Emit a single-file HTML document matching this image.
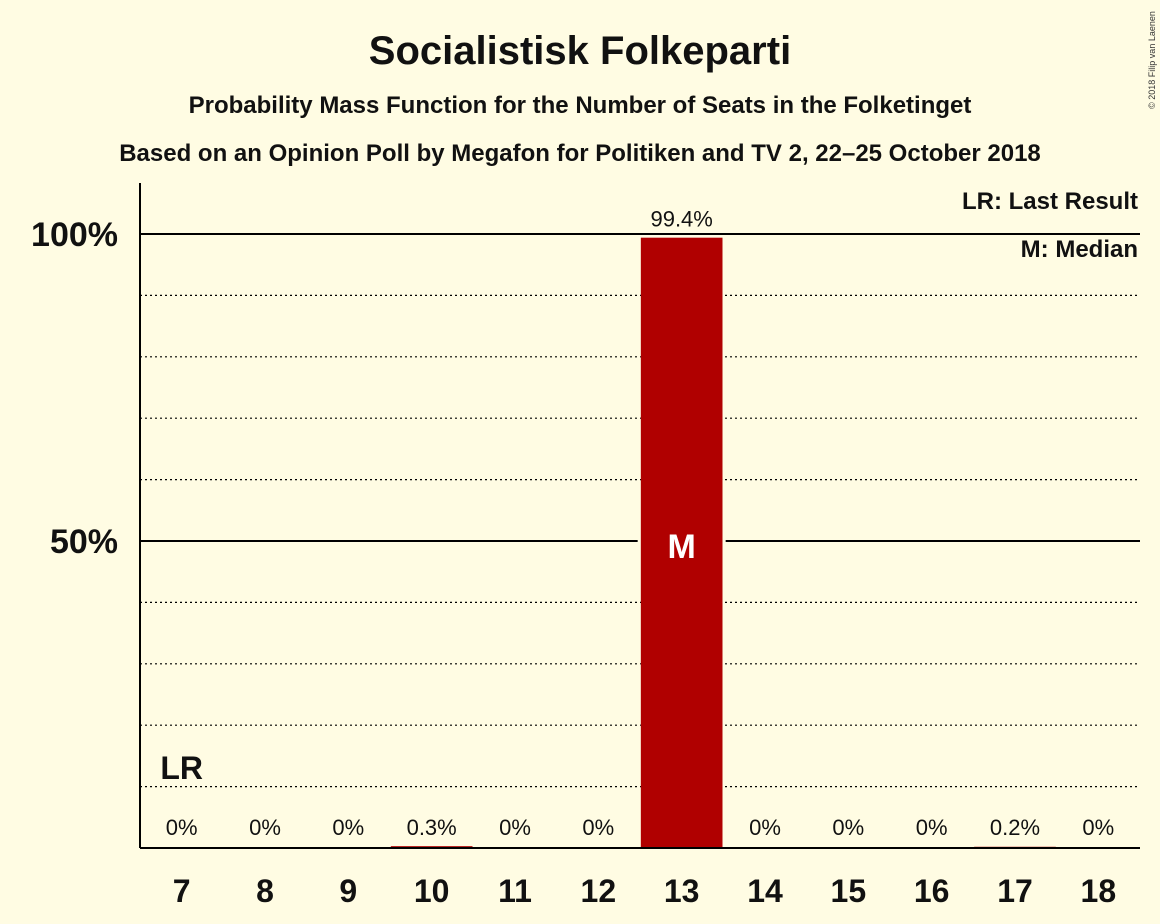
<!DOCTYPE html>
<html><head><meta charset="utf-8"><style>
body{margin:0;background:#FFFCE3;}
svg{display:block;font-family:"Liberation Sans",sans-serif;}
</style></head><body>
<svg id="chart" width="1160" height="924" viewBox="0 0 1160 924">
<rect width="1160" height="924" fill="#FFFCE3"/>
<text x="580" y="64" text-anchor="middle" font-size="40" font-weight="bold" fill="#111">Socialistisk Folkeparti</text>
<text x="580" y="113" text-anchor="middle" font-size="24" font-weight="bold" fill="#111">Probability Mass Function for the Number of Seats in the Folketinget</text>
<text x="580" y="161" text-anchor="middle" font-size="24" font-weight="bold" fill="#111">Based on an Opinion Poll by Megafon for Politiken and TV 2, 22–25 October 2018</text>
<text transform="translate(1155,60) rotate(-90)" text-anchor="middle" font-size="9" fill="#333">© 2018 Filip van Laenen</text>
<g id="grid"></g>
<g id="bars"></g>
<g id="labels"></g>
<line x1="140" y1="183" x2="140" y2="848" stroke="#000" stroke-width="2"/>
<line x1="140" y1="848" x2="1140" y2="848" stroke="#000" stroke-width="2"/>
<text x="1138" y="209" text-anchor="end" font-size="24" font-weight="bold" fill="#111">LR: Last Result</text>
<text x="1138" y="257" text-anchor="end" font-size="24" font-weight="bold" fill="#111">M: Median</text>
</svg>
<script>
const seats=[7,8,9,10,11,12,13,14,15,16,17,18];
const probs=[0,0,0,0.3,0,0,99.4,0,0,0,0.2,0];
const probLabels=["0%","0%","0%","0.3%","0%","0%","99.4%","0%","0%","0%","0.2%","0%"];
const yTicks=[50,100];
const yTickLabels=["50%","100%"];
const gridVals=[10,20,30,40,60,70,80,90];
const medianSeat=13;
const lastResultSeat=7;
const NS="http://www.w3.org/2000/svg";
const x0=140,x1=1140,yb=848,yt=234;
const step=(x1-x0)/seats.length;
function xs(i){return x0+step*(i+0.5);}
function ys(v){return yb-(yb-yt)*v/100;}
function mk(t,a,p,txt){const e=document.createElementNS(NS,t);for(const k in a)e.setAttribute(k,a[k]);if(txt!==undefined)e.textContent=txt;p.appendChild(e);return e;}
const G=document.getElementById('grid'),B=document.getElementById('bars'),L=document.getElementById('labels');
gridVals.forEach(v=>{const e=mk('line',{x1:x0,x2:x1,y1:ys(v),y2:ys(v),stroke:'#000','stroke-width':1.2,'stroke-dasharray':'2,3'},G);

});
yTicks.forEach((v,i)=>{const e=mk('line',{x1:x0,x2:x1,y1:ys(v),y2:ys(v),stroke:'#000','stroke-width':2},G);


const t=mk('text',{x:118,y:ys(v)+12,'text-anchor':'end','font-size':34,'font-weight':'bold',fill:'#111'},L,yTickLabels[i]);

});
const bw=step*0.98;
seats.forEach((s,i)=>{const cx=xs(i);
if(s===medianSeat){
const bg=mk('rect',{x:cx-44,y:ys(50)-3,width:88,height:6,fill:'#FFFCE3'},B);

}
if(probs[i]>0){const r=mk('rect',{x:cx-bw/2,y:ys(probs[i]),width:bw,height:yb-ys(probs[i]),fill:'#B00000'},B);

}
const big=probs[i]>50;
const lb=mk('text',{x:cx,y:big?ys(probs[i])-11:yb-13,'text-anchor':'middle','font-size':22,fill:'#111'},L,probLabels[i]);


const tk=mk('text',{x:cx,y:902,'text-anchor':'middle','font-size':32,'font-weight':'bold',fill:'#111'},L,String(s));


if(s===medianSeat){
const m=mk('text',{x:cx,y:ys(50)+17,'text-anchor':'middle','font-size':34,'font-weight':'bold',fill:'#fff'},L,'M');

}
if(s===lastResultSeat){
const lr=mk('text',{x:cx,y:779,'text-anchor':'middle','font-size':32,'font-weight':'bold',fill:'#111'},L,'LR');

}
});
</script>
</body></html>
